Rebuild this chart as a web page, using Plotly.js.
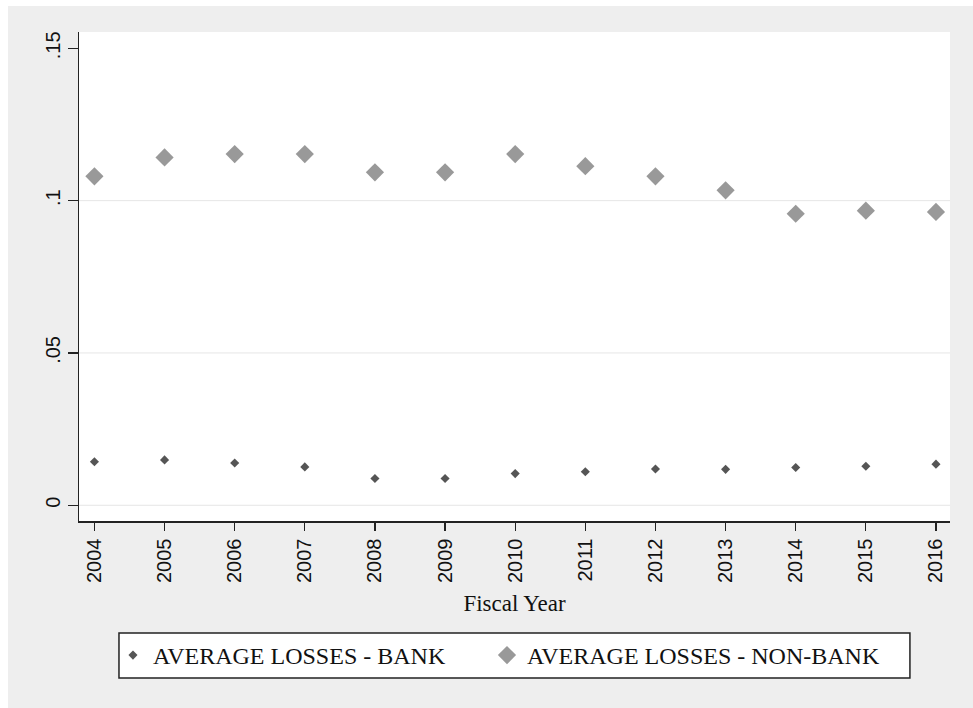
<!DOCTYPE html>
<html>
<head>
<meta charset="utf-8">
<script src="https://cdn.plot.ly/plotly-3.0.1.min.js"></script>
<style>
  html, body { margin: 0; padding: 0; background: #ffffff; }
  #chart { position: absolute; left: 8px; top: 6px; width: 965px; height: 702px; }
</style>
</head>
<body>
<div id="chart"></div>
<script>
// Data
const years = [2004, 2005, 2006, 2007, 2008, 2009, 2010, 2011, 2012, 2013, 2014, 2015, 2016];
const bankLosses = [0.0143, 0.0149, 0.0139, 0.0126, 0.0088, 0.0088, 0.0104, 0.0110, 0.0119, 0.0118, 0.0124, 0.0128, 0.0135];
const nonBankLosses = [0.1080, 0.1142, 0.1153, 0.1153, 0.1093, 0.1093, 0.1153, 0.1113, 0.1080, 0.1034, 0.0957, 0.0967, 0.0963];
const seriesNames = ["AVERAGE LOSSES - BANK", "AVERAGE LOSSES - NON-BANK"];
const yTickVals = [0, 0.05, 0.1, 0.15];
const yTickText = ["0", ".05", ".1", ".15"];
const gridVals = [0, 0.05, 0.1];
const xTitle = "Fiscal Year";

const traces = [
  {
    x: years, y: bankLosses, name: seriesNames[0], type: "scatter", mode: "markers",
    legend: "legend",
    marker: { symbol: "diamond", size: 7, color: "#555555" }
  },
  {
    x: years, y: nonBankLosses, name: seriesNames[1], type: "scatter", mode: "markers",
    legend: "legend2",
    marker: { symbol: "diamond", size: 14, color: "#999999" }
  }
];

const gridShapes = gridVals.map(v => ({
  type: "line", xref: "paper", yref: "y", x0: 0, x1: 1, y0: v, y1: v,
  layer: "below", line: { color: "#e6e6e6", width: 1 }
}));

// legend frame
const legendBox = {
  type: "rect", xref: "paper", yref: "paper",
  x0: 0.0459, x1: 0.954, y0: -0.229, y1: -0.321,
  layer: "above", fillcolor: "#ffffff", line: { color: "#222222", width: 1.5 }
};

const legendFont = { family: "Liberation Serif, Times New Roman, serif", size: 24, color: "#111111" };

const layout = {
  width: 965, height: 702,
  paper_bgcolor: "#eeeeee",
  plot_bgcolor: "#ffffff",
  margin: { l: 71, r: 23, t: 26, b: 187 },
  showlegend: true,
  xaxis: {
    range: [2003.78, 2016.2],
    tickvals: years,
    ticktext: years.map(String),
    tickangle: -90,
    ticks: "outside", ticklen: 8, tickwidth: 1.3, tickcolor: "#222222",
    showline: true, linecolor: "#222222", linewidth: 1.5,
    showgrid: false, zeroline: false,
    tickfont: { family: "Liberation Sans, Arial, sans-serif", size: 20, color: "#111111" },
    title: { text: xTitle, font: { family: "Liberation Serif, Times New Roman, serif", size: 23, color: "#111111" }, standoff: 13 }
  },
  yaxis: {
    range: [-0.00516, 0.15536],
    tickvals: yTickVals,
    ticktext: yTickText,
    tickangle: -90,
    ticks: "outside", ticklen: 10, tickwidth: 1.3, tickcolor: "#222222",
    showline: true, linecolor: "#222222", linewidth: 1.5,
    showgrid: false, zeroline: false,
    ticklabelstandoff: 0,
    tickfont: { family: "Liberation Sans, Arial, sans-serif", size: 20, color: "#111111" }
  },
  legend: {
    orientation: "h",
    x: 0.039, xanchor: "left",
    y: -0.2751, yanchor: "middle",
    bgcolor: "rgba(0,0,0,0)", borderwidth: 0,
    font: legendFont, itemwidth: 30
  },
  legend2: {
    orientation: "h",
    x: 0.4684, xanchor: "left",
    y: -0.2751, yanchor: "middle",
    bgcolor: "rgba(0,0,0,0)", borderwidth: 0,
    font: legendFont, itemwidth: 30
  },
  shapes: gridShapes.concat([legendBox])
};

Plotly.newPlot("chart", traces, layout, { displayModeBar: false, staticPlot: true });
</script>
</body>
</html>
